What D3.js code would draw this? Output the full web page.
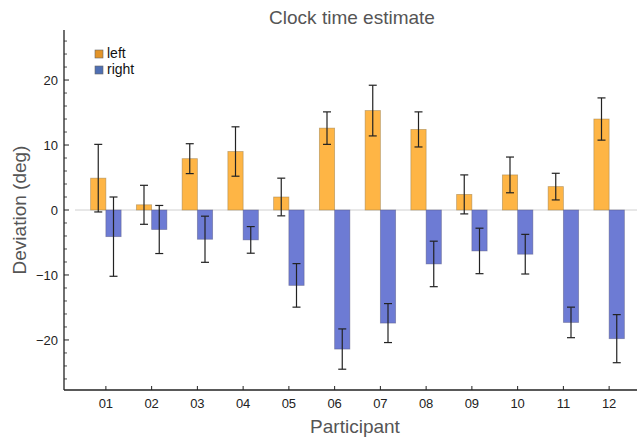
<!DOCTYPE html>
<html lang="en">
<head>
<meta charset="UTF-8">
<title>Clock time estimate</title>
<script src="https://d3js.org/d3.v7.min.js"></script>
<style>
    body { margin: 0; background: #fff; }
    text { font-family: "Liberation Sans", Arial, sans-serif; }
</style>
</head>
<body>
<div id="chart"></div>
<script>
    // data
    const participants = ["01","02","03","04","05","06","07","08","09","10","11","12"];
    const leftMean  = [4.9, 0.8, 7.9, 9.0, 2.0, 12.6, 15.3, 12.4, 2.4, 5.4, 3.6, 14.0];
    const leftErr   = [5.2, 3.0, 2.3, 3.8, 2.9, 2.5, 3.9, 2.7, 3.0, 2.75, 2.05, 3.25];
    const rightMean = [-4.1, -3.0, -4.5, -4.6, -11.6, -21.4, -17.4, -8.3, -6.3, -6.8, -17.3, -19.8];
    const rightErr  = [6.1, 3.7, 3.55, 2.05, 3.35, 3.1, 3.0, 3.5, 3.5, 3.05, 2.35, 3.7];
    const yTicks = [-20, -10, 0, 10, 20];
    const seriesNames = ["left", "right"];

    const W = 639, H = 437;
    const svg = d3.select("#chart").append("svg")
        .attr("width", W).attr("height", H);

    const axisX = 64, axisY = 390;

    const y = d3.scaleLinear().domain([-27.7, 27.7]).range([390, 30]);
    const x = d3.scaleBand().domain(participants).range([83, 632]).padding(0);
    const bw = x.bandwidth() / 3;

    const fills = { left: "#feb545", right: "#6d7bd4" };
    const legendFills = { left: "#e39428", right: "#4f6fb3" };

    // zero line
    svg.append("line")
        .attr("x1", 75).attr("x2", 637)
        .attr("y1", y(0)).attr("y2", y(0))
        .attr("stroke", "#d0d0d0").attr("stroke-width", 1);

    const rows = participants.map((p, i) => ({
        p, l: leftMean[i], le: leftErr[i], r: rightMean[i], re: rightErr[i]
    }));

    // bars
    const g = svg.append("g");
    g.selectAll(".barL").data(rows).enter().append("rect")
        .attr("x", d => x(d.p) + x.bandwidth() / 2 - bw)
        .attr("width", bw)
        .attr("y", d => y(Math.max(0, d.l)))
        .attr("height", d => Math.abs(y(d.l) - y(0)))
        .attr("fill", fills.left)
        .attr("stroke", "rgba(150,120,70,0.55)").attr("stroke-width", 0.8);

    g.selectAll(".barR").data(rows).enter().append("rect")
        .attr("x", d => x(d.p) + x.bandwidth() / 2)
        .attr("width", bw)
        .attr("y", d => y(Math.max(0, d.r)))
        .attr("height", d => Math.abs(y(d.r) - y(0)))
        .attr("fill", fills.right)
        .attr("stroke", "rgba(80,80,120,0.5)").attr("stroke-width", 0.8);

    // error bars
    function errBars(cxFn, mean, err) {
        const eg = svg.append("g").attr("stroke", "#222").attr("stroke-width", 1.2);
        rows.forEach(d => {
            const cx = cxFn(d);
            const m = d[mean], e = d[err];
            eg.append("line").attr("x1", cx).attr("x2", cx)
                .attr("y1", y(m + e)).attr("y2", y(m - e));
            [m + e, m - e].forEach(v => {
                eg.append("line").attr("x1", cx - 4).attr("x2", cx + 4)
                    .attr("y1", y(v)).attr("y2", y(v));
            });
        });
    }
    errBars(d => x(d.p) + x.bandwidth() / 2 - bw / 2, "l", "le");
    errBars(d => x(d.p) + x.bandwidth() / 2 + bw / 2, "r", "re");

    // y axis
    const yAxis = svg.append("g").attr("transform", `translate(${axisX},0)`);
    yAxis.append("line").attr("x1", 0).attr("x2", 0)
        .attr("y1", 30).attr("y2", axisY).attr("stroke", "#222").attr("stroke-width", 1.3);
    const minor = d3.range(-26, 27, 2).filter(v => v % 10 !== 0);
    yAxis.selectAll(".minor").data(minor).enter().append("line")
        .attr("x1", 0).attr("x2", 3)
        .attr("y1", d => y(d)).attr("y2", d => y(d))
        .attr("stroke", "#222").attr("stroke-width", 0.8);
    yAxis.selectAll(".major").data(yTicks).enter().append("line")
        .attr("x1", 0).attr("x2", 5)
        .attr("y1", d => y(d)).attr("y2", d => y(d))
        .attr("stroke", "#222").attr("stroke-width", 1);
    yAxis.selectAll(".lab").data(yTicks).enter().append("text")
        .attr("x", -6).attr("y", d => y(d)).attr("dy", "0.35em")
        .attr("text-anchor", "end")
        .style("font-size", "13px").attr("fill", "#222")
        .text(d => d < 0 ? "\u2212" + Math.abs(d) : d);

    // x axis
    const xAxis = svg.append("g");
    xAxis.append("line").attr("x1", axisX).attr("x2", 637)
        .attr("y1", axisY).attr("y2", axisY).attr("stroke", "#222").attr("stroke-width", 1.3);
    xAxis.selectAll(".xt").data(participants).enter().append("line")
        .attr("x1", d => x(d) + x.bandwidth() / 2).attr("x2", d => x(d) + x.bandwidth() / 2)
        .attr("y1", axisY).attr("y2", axisY - 4)
        .attr("stroke", "#222").attr("stroke-width", 1);
    xAxis.selectAll(".xl").data(participants).enter().append("text")
        .attr("x", d => x(d) + x.bandwidth() / 2).attr("y", axisY + 18)
        .attr("text-anchor", "middle")
        .style("font-size", "13px").attr("fill", "#222")
        .text(d => d);

    // titles
    svg.append("text").attr("x", 352).attr("y", 24)
        .attr("text-anchor", "middle").style("font-size", "19px").attr("fill", "#555")
        .text("Clock time estimate");
    svg.append("text").attr("x", 355).attr("y", 433)
        .attr("text-anchor", "middle").style("font-size", "19px").attr("fill", "#555")
        .text("Participant");
    svg.append("text")
        .attr("transform", `translate(26,${y(0)}) rotate(-90)`)
        .attr("text-anchor", "middle").style("font-size", "19px").attr("fill", "#555")
        .text("Deviation (deg)");

    // legend
    const lg = svg.append("g").attr("transform", "translate(95,48)");
    seriesNames.forEach((n, i) => {
        lg.append("rect").attr("x", 0).attr("y", i * 16 + 2)
            .attr("width", 8).attr("height", 8)
            .attr("fill", legendFills[n]).attr("stroke", "#666").attr("stroke-width", 0.6);
        lg.append("text").attr("x", 12).attr("y", i * 16 + 10)
            .style("font-size", "14px").attr("fill", "#111").text(n);
    });
</script>
</body>
</html>
